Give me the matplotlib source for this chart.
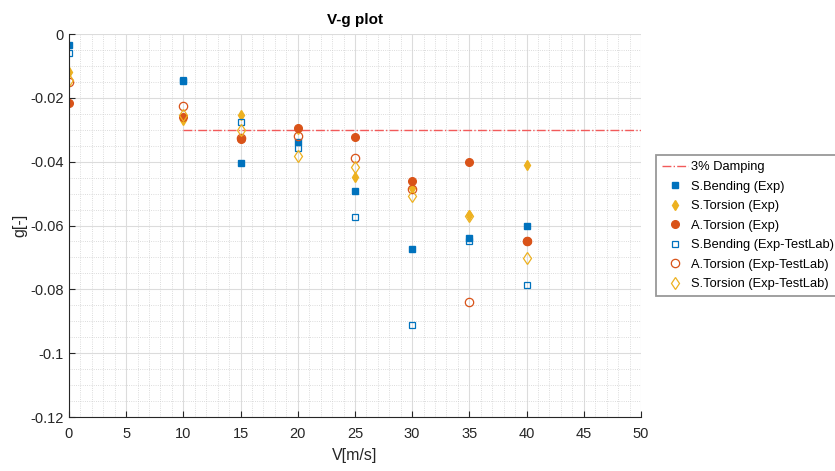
import matplotlib
matplotlib.use("Agg")
import matplotlib.pyplot as plt
from matplotlib.ticker import MultipleLocator, FixedLocator

plt.rcParams['font.family'] = ['Liberation Sans', 'DejaVu Sans']

# velocities [m/s]
V = [0, 10, 15, 20, 25, 30, 35, 40]

# damping g [-]
sb_exp = [-0.0036, -0.0147, -0.0404, -0.0337, -0.0493, -0.0673, -0.0639, -0.0603]
st_exp = [-0.0119, -0.0270, -0.0254, -0.0298, -0.0447, -0.0483, -0.0566, -0.0409]
at_exp = [-0.0215, -0.0259, -0.0330, -0.0295, -0.0323, -0.0459, -0.0401, -0.0650]
sb_tl = [-0.0061, -0.0143, -0.0277, -0.0358, -0.0573, -0.0911, -0.0649, -0.0785]
at_tl = [-0.0150, -0.0225, -0.0325, -0.0321, -0.0389, -0.0485, -0.0840, -0.0650]
st_tl = [-0.0145, -0.0255, -0.0302, -0.0383, -0.0418, -0.0506, -0.0570, -0.0702]

damp_v = [10, 50]
damp_g = [-0.03, -0.03]

blue = '#0072BD'
orange = '#D95319'
yellow = '#EDB120'

fig = plt.figure(figsize=(8.35, 4.71), dpi=100)
ax = fig.add_axes([0.0826, 0.1146, 0.685, 0.8132])

ax.plot(damp_v, damp_g, linestyle='-.', color='#F25A5A', lw=1.0, label='3% Damping')
ax.plot(V, sb_exp, 's', color=blue, ms=4.5, label='S.Bending (Exp)')
ax.plot(V, st_exp, 'd', color=yellow, ms=5.5, label='S.Torsion (Exp)')
ax.plot(V, at_exp, 'o', color=orange, ms=5.5, label='A.Torsion (Exp)')
ax.plot(V, sb_tl, 's', color=blue, mfc='none', ms=4.5, mew=0.9, label='S.Bending (Exp-TestLab)')
ax.plot(V, at_tl, 'o', color=orange, mfc='none', ms=6, mew=0.9, label='A.Torsion (Exp-TestLab)')
ax.plot(V, st_tl, 'd', color=yellow, mfc='none', ms=6, mew=0.9, label='S.Torsion (Exp-TestLab)')

ax.set_xlim(0, 50)
ax.set_ylim(-0.12, 0)
ax.xaxis.set_major_locator(MultipleLocator(5))
ax.xaxis.set_minor_locator(MultipleLocator(1))
ax.yaxis.set_major_locator(FixedLocator([0, -0.02, -0.04, -0.06, -0.08, -0.1, -0.12]))
ax.yaxis.set_minor_locator(MultipleLocator(0.005))
ax.set_yticklabels(['0', '-0.02', '-0.04', '-0.06', '-0.08', '-0.1', '-0.12'])

ax.grid(which='major', color='#dcdcdc', lw=0.8)
ax.grid(which='minor', color='#d0d0d0', lw=0.6, linestyle=':')
ax.set_axisbelow(True)

for s in ['top', 'right']:
    ax.spines[s].set_visible(False)
for s in ['left', 'bottom']:
    ax.spines[s].set_color('#262626')
    ax.spines[s].set_linewidth(0.8)
ax.tick_params(which='major', direction='in', length=4, labelsize=10.5, colors='#262626')
ax.tick_params(axis='x', which='major', pad=7)
ax.tick_params(axis='y', which='major', pad=4)
ax.tick_params(which='minor', length=0)

ax.set_xlabel('V[m/s]', fontsize=11.5, color='#262626', labelpad=5)
ax.set_ylabel('g[-]', fontsize=11.5, color='#262626', labelpad=2)
ax.set_title('V-g plot', fontsize=11, fontweight='bold', pad=7)

leg = fig.legend(loc='upper left', bbox_to_anchor=(0.786, 0.67), fontsize=9.3,
                 fancybox=False, edgecolor='#999999', framealpha=1,
                 handlelength=2.0, handletextpad=0.2, labelspacing=0.58,
                 borderpad=0.45, borderaxespad=0)
leg.get_frame().set_linewidth(1.3)

fig.savefig('out.png', dpi=100)
